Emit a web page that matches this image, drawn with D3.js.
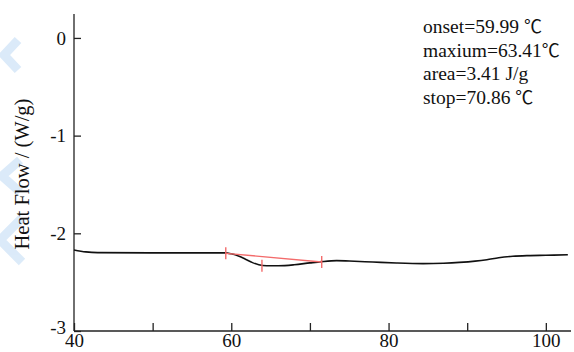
<!DOCTYPE html>
<html lang="en">
<head>
<meta charset="UTF-8">
<title>DSC Heat Flow</title>
<script src="https://cdnjs.cloudflare.com/ajax/libs/d3/7.8.5/d3.min.js"></script>
<style>
  body { margin: 0; background: #fff; }
  svg { display: block; font-family: "Liberation Serif", "Times New Roman", serif; }
</style>
</head>
<body>
<svg id="chart" width="574" height="352"></svg>
<script>
// heat flow curve: [temperature °C, W/g]
const temps = [40, 41.5, 43, 50, 55, 59.2, 60, 61, 61.8, 62.7, 63.5, 64.5, 66, 68, 70, 71.5, 73.4, 75, 78, 81, 84.4, 87, 89, 91, 92.5, 94, 95.8, 98, 100, 102.8];
const flow  = [-2.17, -2.19, -2.198, -2.20, -2.20, -2.20, -2.21, -2.235, -2.265, -2.30, -2.322, -2.332, -2.332, -2.322, -2.303, -2.29, -2.28, -2.284, -2.294, -2.304, -2.31, -2.306, -2.298, -2.285, -2.27, -2.25, -2.235, -2.228, -2.225, -2.22];

// red baseline and the onset / peak / stop markers
const markTemps = [59.3, 63.9, 71.5];
const markFlow  = [-2.205, -2.333, -2.293];

const xTicks = [40, 50, 60, 70, 80, 90, 100];
const xTickLabels = ["40", "", "60", "", "80", "", "100"];
const yTicks = [0, -1, -2, -3];

// annotation lines: [text, unit]
const notes = [["onset=59.99 ", "\u2103"], ["maxium=63.41", "\u2103"], ["area=3.41 J/g", ""], ["stop=70.86 ", "\u2103"]];

const svg = d3.select("#chart");
const mLeft = 74, mBottom = 331, mTop = 14, mRight = 571;

const x = d3.scaleLinear().domain([40, 103.2]).range([mLeft, mRight]);
const y = d3.scaleLinear().domain([-3, 0.245]).range([mBottom, mTop]);

// faint watermark at the left edge
const wm = svg.append("g").attr("fill", "none").attr("stroke", "#d3e6f8").attr("stroke-width", 9).attr("opacity", 0.8);
wm.append("path").attr("d", "M18,40 L4,55 L18,70");
wm.append("path").attr("d", "M20,160 L2,176 L20,192");
wm.append("path").attr("d", "M22,218 L0,240 L22,262");

// axes
const xAxis = d3.axisBottom(x).tickValues(xTicks).tickSize(-8).tickPadding(2)
  .tickFormat((d, i) => xTickLabels[i]);
const gx = svg.append("g").attr("transform", `translate(0,${mBottom})`).call(xAxis);
gx.select(".domain").attr("d", `M${mLeft},0H${mRight}`);

const yAxis = d3.axisLeft(y).tickValues(yTicks).tickSize(-7).tickPadding(8)
  .tickFormat(d => String(d));
const gy = svg.append("g").attr("transform", `translate(${mLeft},0)`).call(yAxis);
gy.select(".domain").attr("d", `M0,${mTop}V${mBottom}`);

svg.selectAll(".domain, .tick line").attr("stroke", "#222").attr("stroke-width", 1.3);
svg.selectAll(".tick text").attr("font-size", 19).attr("fill", "#111")
  .attr("font-family", "Liberation Serif, serif");
gy.selectAll(".tick text").filter(d => d === -3).attr("dy", "0.12em");

svg.append("text")
  .attr("transform", `translate(29,174) rotate(-90)`)
  .attr("text-anchor", "middle")
  .attr("font-size", 20.5).attr("fill", "#111")
  .text("Heat Flow / (W/g)");

// curve
const line = d3.line().x(d => x(d[0])).y(d => y(d[1])).curve(d3.curveMonotoneX);
svg.append("path")
  .datum(d3.zip(temps, flow))
  .attr("fill", "none").attr("stroke", "#111").attr("stroke-width", 1.6)
  .attr("d", line);

// baseline between onset and stop
svg.append("line")
  .attr("x1", x(markTemps[0])).attr("y1", y(markFlow[0]))
  .attr("x2", x(markTemps[2])).attr("y2", y(markFlow[2]))
  .attr("stroke", "#f36b6b").attr("stroke-width", 1.4);

svg.append("g").selectAll("line")
  .data(d3.zip(markTemps, markFlow))
  .join("line")
  .attr("x1", d => x(d[0])).attr("x2", d => x(d[0]))
  .attr("y1", d => y(d[1]) - 6).attr("y2", d => y(d[1]) + 6)
  .attr("stroke", "#f36b6b").attr("stroke-width", 1.4);

// annotation block
const note = svg.append("g").selectAll("text")
  .data(notes)
  .join("text")
  .attr("x", 423)
  .attr("y", (d, i) => 33 + i * 23.6)
  .attr("font-size", 19.5).attr("fill", "#111")
  .attr("xml:space", "preserve")
  .style("white-space", "pre");
note.append("tspan").text(d => d[0]);
note.append("tspan")
  .attr("font-family", "Noto Sans CJK SC")
  .attr("font-size", 18)
  .text(d => d[1]);
</script>
</body>
</html>
